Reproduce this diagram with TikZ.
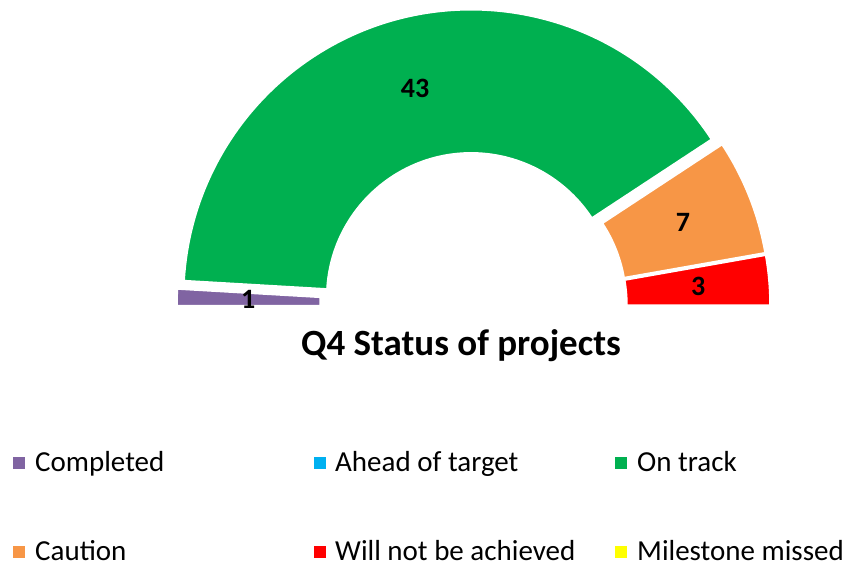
\documentclass[tikz,border=0pt]{standalone}
\usepackage{fontspec}
\setmainfont{Carlito}
\usetikzlibrary{positioning}
\definecolor{donepurple}{HTML}{8064A2}
\definecolor{aheadblue}{HTML}{00B0F0}
\definecolor{trackgreen}{HTML}{00B050}
\definecolor{cautionorange}{HTML}{F79646}
\definecolor{failred}{HTML}{FF0000}
\definecolor{missyellow}{HTML}{FFFF00}
% one exploded slice of the half ring: start angle, end angle, colour
\newcommand{\ringslice}[3]{%
  \pgfmathsetmacro{\slicemid}{(#1+#2)/2}
  \fill[#3, draw=white, line width=1.5pt, shift={(\slicemid:9)}]
    (#1:144.5) arc[start angle=#1, end angle=#2, radius=144.5]
    -- (#2:287.5) arc[start angle=#2, end angle=#1, radius=287.5] -- cycle;
}

\begin{document}
\begin{tikzpicture}[x=1pt, y=1pt,
    slicelabel/.style={font=\fontsize{28}{34}\selectfont\bfseries, inner sep=0pt},
    legbox/.style={fill=#1, minimum size=12pt, inner sep=0pt},
    legtext/.style={anchor=base west, font=\fontsize{29}{35}\selectfont, inner sep=0pt}]
    \useasboundingbox (0,0) rectangle (847,565);

    % half doughnut, centre at (473.5,259)
    \begin{scope}[shift={(473.5,259)}]
        \ringslice{180}{176.667}{donepurple}
        \ringslice{176.667}{33.333}{trackgreen}
        \ringslice{33.333}{10}{cautionorange}
        \ringslice{10}{0}{failred}
        \node[slicelabel] (lblDone) at (178.333:225.5) {1};
        \node[slicelabel] (lblTrack) at (105:225.5) {43};
        \node[slicelabel] (lblCaution) at (21.667:225.5) {7};
        \node[slicelabel] (lblFail) at (5:225.5) {3};
    \end{scope}

    \node[anchor=base, font=\fontsize{37}{43}\selectfont\bfseries, inner sep=0pt] (title) at (461,209) {Q4 Status of projects};

    % legend
    \node[legbox=donepurple] (keyDone) at (19,102) {};
    \node[legtext] (txtDone) at (35,93) {Completed};
    \node[legbox=aheadblue] (keyAhead) at (320,102) {};
    \node[legtext] (txtAhead) at (335,93) {Ahead of target};
    \node[legbox=trackgreen] (keyTrack) at (620.5,102) {};
    \node[legtext] (txtTrack) at (637,93) {On track};
    \node[legbox=cautionorange] (keyCaution) at (19,13) {};
    \node[legtext] (txtCaution) at (35,4.5) {Caution};
    \node[legbox=failred] (keyFail) at (320,13) {};
    \node[legtext] (txtFail) at (335,4.5) {Will not be achieved};
    \node[legbox=missyellow] (keyMiss) at (620.5,13) {};
    \node[legtext] (txtMiss) at (637,4.5) {Milestone missed};
\end{tikzpicture}
\end{document}
